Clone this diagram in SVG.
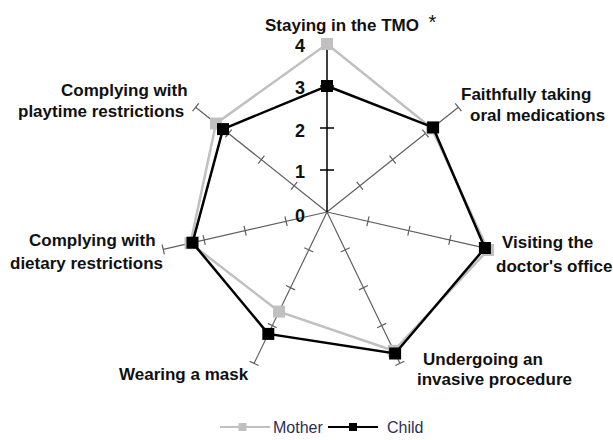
<svg xmlns="http://www.w3.org/2000/svg" width="613" height="440" viewBox="0 0 613 440">
<style>
.lbl{font-family:"Liberation Sans",Arial,sans-serif;font-size:17px;font-weight:bold;fill:#111}
.num{font-family:"Liberation Sans",Arial,sans-serif;font-size:18px;font-weight:bold;fill:#111}
.leg{font-family:"Liberation Sans",Arial,sans-serif;font-size:16px;fill:#2a2f55}
.ax{stroke:#606060;stroke-width:1.2;fill:none}
.axv{stroke:#000;stroke-width:1.5;fill:none}
.mom{stroke:#c0c0c0;stroke-width:2.5;fill:none;stroke-linejoin:miter}
.kid{stroke:#000;stroke-width:2.5;fill:none;stroke-linejoin:miter}
</style>
<defs>
<g id="axis"><path class="ax" d="M327 212V44M322 170H332M322 128H332M322 86H332M322 44H332"/></g>
<rect id="sqm" x="-6" y="-6" width="12" height="12" fill="#c0c0c0"/>
<rect id="sqk" x="-6" y="-6" width="12" height="12" fill="#000"/>
</defs>
<g id="axes">
<use href="#axis" transform="rotate(51.4286 327 212)"/>
<use href="#axis" transform="rotate(102.857 327 212)"/>
<use href="#axis" transform="rotate(154.286 327 212)"/>
<use href="#axis" transform="rotate(205.714 327 212)"/>
<use href="#axis" transform="rotate(257.143 327 212)"/>
<use href="#axis" transform="rotate(308.571 327 212)"/>
<path class="axv" d="M327 212V44M320 170H334M320 128H334M320 86H334"/>
</g>
<g id="scale">
<text class="num" x="295" y="52">4</text>
<text class="num" x="295" y="94">3</text>
<text class="num" x="295" y="137">2</text>
<text class="num" x="295" y="178">1</text>
<text class="num" x="295" y="222">0</text>
</g>
<g id="series-mother">
<polygon class="mom" points="327,44 431.8,128.4 488,250 393.8,350.8 279.1,311.6 190.5,243.2 216,123.5"/>
<use href="#sqm" x="327" y="44"/>
<use href="#sqm" x="431.8" y="128.4"/>
<use href="#sqm" x="488" y="250"/>
<use href="#sqm" x="393.8" y="350.8"/>
<use href="#sqm" x="279.1" y="311.6"/>
<use href="#sqm" x="190.5" y="243.2"/>
<use href="#sqm" x="216" y="123.5"/>
</g>
<g id="series-child">
<polygon class="kid" points="327,86 433.1,127.4 484.9,248 395.1,353.5 268.3,333.9 192.5,242.7 223,129.1"/>
<use href="#sqk" x="327" y="86"/>
<use href="#sqk" x="433.1" y="127.4"/>
<use href="#sqk" x="484.9" y="248"/>
<use href="#sqk" x="395.1" y="353.5"/>
<use href="#sqk" x="268.3" y="333.9"/>
<use href="#sqk" x="192.5" y="242.7"/>
<use href="#sqk" x="223" y="129.1"/>
</g>
<g id="label-tmo">
<text class="lbl" x="265" y="31">Staying in the TMO</text>
<text x="428.5" y="29" style="font-family:'Liberation Sans',Arial,sans-serif;font-size:20px;fill:#111">*</text>
</g>
<g id="label-oral">
<text class="lbl" x="461" y="100">Faithfully taking</text>
<text class="lbl" x="470" y="121">oral medications</text>
</g>
<g id="label-doctor">
<text class="lbl" x="502" y="248">Visiting the</text>
<text class="lbl" x="496" y="272">doctor's office</text>
</g>
<g id="label-invasive">
<text class="lbl" x="423" y="365">Undergoing an</text>
<text class="lbl" x="417" y="385">invasive procedure</text>
</g>
<g id="label-mask">
<text class="lbl" x="119" y="380">Wearing a mask</text>
</g>
<g id="label-dietary">
<text class="lbl" x="29" y="246">Complying with</text>
<text class="lbl" x="10" y="269">dietary restrictions</text>
</g>
<g id="label-playtime">
<text class="lbl" x="61" y="96">Complying with</text>
<text class="lbl" x="18" y="117">playtime restrictions</text>
</g>
<g id="legend">
<path d="M220 427H270" stroke="#c0c0c0" stroke-width="2"/>
<rect x="238.5" y="423" width="8" height="8" fill="#c0c0c0"/>
<text class="leg" x="273" y="433">Mother</text>
<path d="M328 427H378" stroke="#000" stroke-width="2"/>
<rect x="349" y="423" width="8" height="8" fill="#000"/>
<text class="leg" x="387" y="433">Child</text>
</g>
</svg>
